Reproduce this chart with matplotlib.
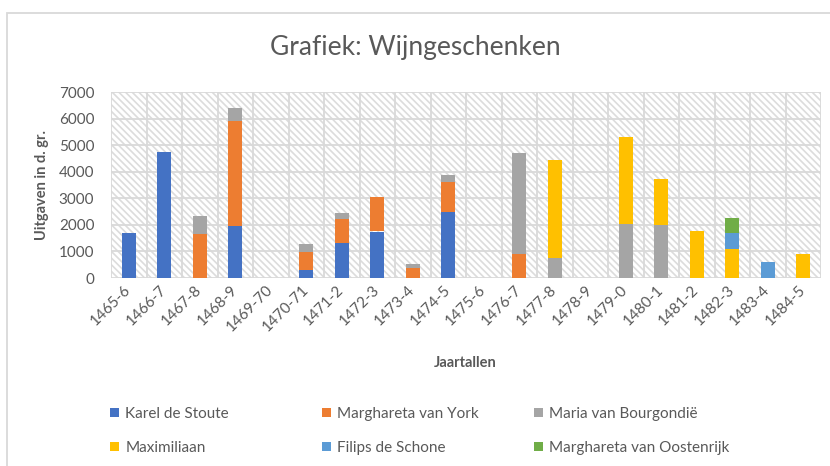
import numpy as np
import matplotlib
matplotlib.use("Agg")
import matplotlib.pyplot as plt
from matplotlib.patches import Rectangle

plt.rcParams['font.family'] = ['Lato', 'DejaVu Sans']
plt.rcParams['hatch.linewidth'] = 1.2

categories = ['1465-6', '1466-7', '1467-8', '1468-9', '1469-70', '1470-71', '1471-2',
              '1472-3', '1473-4', '1474-5', '1475-6', '1476-7', '1477-8', '1478-9',
              '1479-0', '1480-1', '1481-2', '1482-3', '1483-4', '1484-5']

series_names = ['Karel de Stoute', 'Marghareta van York', 'Maria van Bourgondië',
                'Maximiliaan', 'Filips de Schone', 'Marghareta van Oostenrijk']

karel = [1700, 4740, 0, 1970, 0, 290, 1310, 1750, 0, 2470, 0, 0, 0, 0, 0, 0, 0, 0, 0, 0]
margharetha_york = [0, 0, 1650, 3940, 0, 680, 900, 1310, 390, 1140, 0, 920, 0, 0, 0, 0, 0, 0, 0, 0]
maria = [0, 0, 670, 490, 0, 320, 250, 0, 150, 260, 0, 3780, 740, 0, 2030, 1990, 0, 0, 0, 0]
maximiliaan = [0, 0, 0, 0, 0, 0, 0, 0, 0, 0, 0, 0, 3710, 0, 3270, 1720, 1780, 1100, 0, 900]
filips = [0, 0, 0, 0, 0, 0, 0, 0, 0, 0, 0, 0, 0, 0, 0, 0, 0, 610, 610, 0]
oostenrijk = [0, 0, 0, 0, 0, 0, 0, 0, 0, 0, 0, 0, 0, 0, 0, 0, 0, 550, 0, 0]

yticks = [0, 1000, 2000, 3000, 4000, 5000, 6000, 7000]

colors = ['#4472C4', '#ED7D31', '#A5A5A5', '#FFC000', '#5B9BD5', '#70AD47']
text_color = '#595959'
grid_color = '#D9D9D9'

W, H = 830, 466
fig = plt.figure(figsize=(W / 100, H / 100), dpi=100)

# chart border (extends beyond the right and bottom edge)
fig.patches.append(Rectangle((7 / W, -0.05), 1.2, 1 - 13 / H + 0.05, transform=fig.transFigure,
                             fill=False, edgecolor=grid_color, linewidth=1.3, zorder=0))

ax = fig.add_axes([111 / W, 1 - 278 / H, 710 / W, 186 / H])
ax.set_xlim(-0.5, len(categories) - 0.5)
ax.set_ylim(0, 7000)

# hatched plot background
ax.add_patch(Rectangle((0, 0), 1, 1, transform=ax.transAxes, facecolor='white',
                       edgecolor='#DCDCDC', hatch='\\\\\\\\\\', linewidth=0, zorder=0))

x = np.arange(len(categories))
data = [karel, margharetha_york, maria, maximiliaan, filips, oostenrijk]
bottom = np.zeros(len(categories))
handles = []
for vals, name, col in zip(data, series_names, colors):
    v = np.array(vals, dtype=float)
    b = ax.bar(x, v, width=0.4, bottom=bottom, color=col, label=name, zorder=3)
    handles.append(b)
    bottom += v

# gridlines
for yv in yticks:
    ax.axhline(yv, color=grid_color, linewidth=1.3, zorder=1)
for xv in np.arange(-0.5, len(categories), 1.0):
    ax.axvline(xv, color=grid_color, linewidth=1.3, zorder=1)

for s in ax.spines.values():
    s.set_visible(False)

ax.set_yticks(yticks)
ax.set_yticklabels([str(t) for t in yticks], color=text_color, fontsize=11)
ax.set_xticks(x)
ax.set_xticklabels(categories, rotation=45, ha='right', va='center',
                   rotation_mode='anchor', color=text_color, fontsize=11)
ax.tick_params(axis='both', length=0)
ax.tick_params(axis='y', pad=12)
ax.tick_params(axis='x', pad=7)

fig.text(0.5, 1 - 48 / H, 'Grafiek: Wijngeschenken', ha='center', va='center',
         fontsize=19, color=text_color)
fig.text(465 / W, 1 - 363 / H, 'Jaartallen', ha='center', va='center',
         fontsize=10.5, fontweight='bold', color=text_color)
fig.text(42 / W, 1 - 185 / H, 'Uitgaven in d. gr.', ha='center', va='center',
         rotation=90, fontsize=10.5, fontweight='bold', color=text_color)

# legend, two rows of three entries
col_x = [110, 322, 534]
row_y = [414, 448]
for i, (h, name) in enumerate(zip(handles, series_names)):
    cx = col_x[i % 3]
    cy = row_y[i // 3]
    lg = fig.legend([h], [name], loc='center left',
                    bbox_to_anchor=(cx / W, 1 - cy / H), frameon=False,
                    handlelength=0.6, handleheight=0.6, handletextpad=0.4,
                    borderpad=0, borderaxespad=0, fontsize=11)
    for t in lg.get_texts():
        t.set_color(text_color)

fig.savefig('out.png', dpi=100)
